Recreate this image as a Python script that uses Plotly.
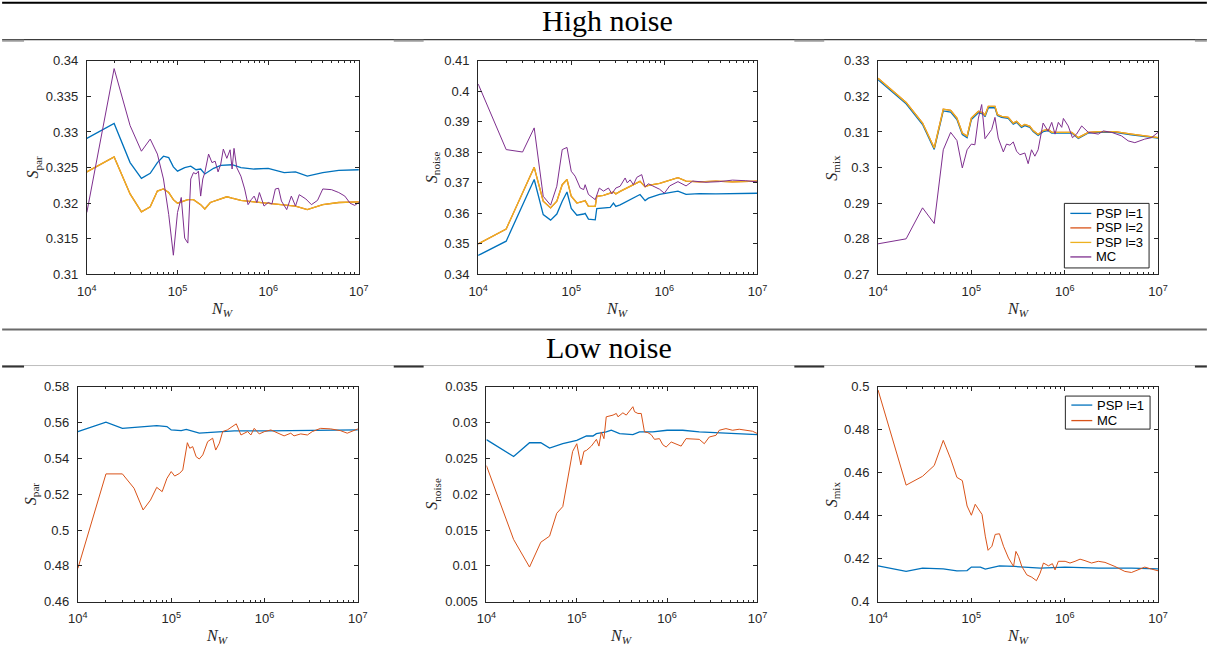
import plotly.graph_objects as go

# ---------------- data ----------------
# High noise, S_par
hp_psp1_N = [1e4, 2e4, 3e4, 4e4, 5e4, 6e4, 7e4, 8e4, 9e4, 1e5, 1.2e5, 1.4e5, 1.6e5, 1.8e5, 2e5, 2.5e5, 3e5, 4e5, 5e5, 7e5,
             1e6, 1.5e6, 2e6, 2.7e6, 4e6, 6e6, 1e7]
hp_psp1 = [0.3291, 0.3312, 0.3257, 0.3235, 0.3242, 0.3257, 0.3266, 0.3264, 0.3251, 0.3245, 0.3250, 0.3252, 0.3247, 0.3248,
           0.3241, 0.3249, 0.3253, 0.3254, 0.3250, 0.3248, 0.3249, 0.3243, 0.3244, 0.3238, 0.3243, 0.3246, 0.3247]
hp_psp3_N = [1e4, 2e4, 3e4, 4e4, 5e4, 6e4, 7e4, 8e4, 9e4, 1e5, 1.3e5, 1.5e5, 1.8e5, 2e5, 2.3e5, 3e5, 3.5e5, 4e5, 5e5, 7e5,
             1e6, 1.5e6, 2e6, 2.7e6, 4e6, 6e6, 1e7]
hp_psp3 = [0.3244, 0.3265, 0.3213, 0.3188, 0.3195, 0.3217, 0.3220, 0.3215, 0.3205, 0.3200, 0.3205, 0.3205, 0.3198, 0.3192,
           0.3201, 0.3206, 0.3209, 0.3207, 0.3204, 0.3202, 0.3200, 0.3197, 0.3196, 0.3191, 0.3198, 0.3201, 0.3202]
hp_psp2_N = hp_psp3_N
hp_psp2 = [0.3244, 0.3265, 0.3213, 0.3188, 0.3195, 0.3217, 0.3220, 0.3215, 0.3205, 0.3200, 0.3205, 0.3205, 0.3198, 0.3192,
           0.3201, 0.3206, 0.3209, 0.3207, 0.3204, 0.3202, 0.3200, 0.3197, 0.3196, 0.3191, 0.3198, 0.3201, 0.3202]
hp_mc_N = [1e4, 2e4, 3e4, 4e4, 5e4, 6e4, 7e4, 8e4, 9e4,
           1e5, 1.1e5, 1.2e5, 1.3e5, 1.4e5, 1.5e5, 1.6e5, 1.7e5, 1.8e5, 1.9e5, 2e5,
           2.2e5, 2.4e5, 2.6e5, 2.8e5, 3e5,
           3.2e5, 3.5e5, 3.8e5, 4e5, 4.2e5, 4.5e5, 5e5, 5.5e5, 6e5, 6.5e5, 7e5, 7.5e5, 8e5, 9e5,
           1e6, 1.1e6, 1.2e6, 1.3e6, 1.4e6, 1.6e6, 1.8e6, 2e6, 2.2e6, 2.6e6, 3e6, 3.5e6, 4e6, 5e6, 6e6, 7e6, 8e6, 9e6,
           1e7]
hp_mc = [0.3187, 0.3389, 0.3309, 0.3273, 0.3290, 0.3269, 0.3234, 0.3184, 0.3127,
         0.3187, 0.3208, 0.3151, 0.3144, 0.3234, 0.3243, 0.3241, 0.3245, 0.3210, 0.3234, 0.3243,
         0.3269, 0.3257, 0.3259, 0.3244, 0.3255,
         0.3276, 0.3263, 0.3275, 0.3248, 0.3277, 0.3250, 0.3238, 0.3220, 0.3198, 0.3205, 0.3210, 0.3201, 0.3215, 0.3196,
         0.3201, 0.3199, 0.3220, 0.3221, 0.3203, 0.3191, 0.3210, 0.3196, 0.3212, 0.3206, 0.3198, 0.3204, 0.3220, 0.3219,
         0.3215, 0.3210, 0.3200, 0.3197,
         0.3201]

# High noise, S_noise
hn_psp1_N = [1e4, 2e4, 4e4, 5e4, 6e4, 7e4, 8e4, 9e4,
             1e5, 1.15e5, 1.36e5, 1.41e5, 1.53e5, 1.81e5, 1.88e5,
             2.22e5, 2.62e5, 2.84e5, 3.01e5, 3.35e5, 3.95e5, 4.65e5, 5.48e5, 6.21e5, 6.74e5, 8.9e5,
             1.4e6, 1.71e6, 2.38e6, 3.58e6, 5.4e6, 1e7]
hn_psp1 = [0.3462, 0.3509, 0.3711, 0.3596, 0.3578, 0.3598, 0.3640, 0.3670,
           0.3616, 0.3594, 0.3598, 0.3600, 0.3581, 0.3579, 0.3616,
           0.3618, 0.3620, 0.3634, 0.3623, 0.3628, 0.3640, 0.3651, 0.3662, 0.3642, 0.3650, 0.3662,
           0.3673, 0.3662, 0.3665, 0.3664, 0.3665, 0.3666]
hn_psp3_N = [1e4, 2e4, 4e4, 5e4, 6e4, 7e4, 8e4, 9e4,
             1e5, 1.15e5, 1.36e5, 1.41e5, 1.53e5, 1.81e5, 1.88e5,
             2.22e5, 2.84e5, 3.01e5, 3.35e5, 3.95e5, 4.65e5, 5.48e5, 6.21e5, 6.74e5, 8.9e5,
             1.4e6, 1.71e6, 2.38e6, 3.58e6, 5.4e6, 1e7]
hn_psp3 = [0.3500, 0.3549, 0.3751, 0.3640, 0.3618, 0.3640, 0.3694, 0.3711,
           0.3656, 0.3634, 0.3640, 0.3642, 0.3623, 0.3623, 0.3656,
           0.3659, 0.3670, 0.3664, 0.3672, 0.3683, 0.3692, 0.3705, 0.3687, 0.3692, 0.3698,
           0.3717, 0.3706, 0.3703, 0.3706, 0.3703, 0.3706]
hn_psp2_N = hn_psp3_N
hn_psp2 = [0.3500, 0.3549, 0.3751, 0.3640, 0.3618, 0.3640, 0.3694, 0.3711,
           0.3656, 0.3634, 0.3640, 0.3642, 0.3623, 0.3623, 0.3656,
           0.3659, 0.3670, 0.3664, 0.3672, 0.3683, 0.3692, 0.3705, 0.3687, 0.3692, 0.3698,
           0.3717, 0.3706, 0.3703, 0.3706, 0.3703, 0.3706]
hn_mc_N = [1e4, 2e4, 3e4, 4e4, 5e4, 6e4, 7e4, 8e4, 9e4,
           1e5, 1.1e5, 1.25e5, 1.36e5, 1.41e5, 1.53e5, 1.81e5, 2e5,
           2.22e5, 2.51e5, 2.73e5, 3.01e5, 3.35e5, 3.79e5, 4e5, 4.29e5, 4.65e5, 5.06e5, 5.71e5, 6.21e5, 6.74e5, 7.5e5,
           8.9e5, 1e6, 1.14e6, 1.4e6, 1.71e6, 2.02e6, 2.8e6, 3.89e6, 5.4e6, 7.5e6, 1e7]
hn_mc = [0.4024, 0.3809, 0.3801, 0.3880, 0.3656, 0.3627, 0.3689, 0.3809, 0.3816,
         0.3738, 0.3722, 0.3683, 0.3678, 0.3694, 0.3662, 0.3645, 0.3683,
         0.3673, 0.3683, 0.3664, 0.3683, 0.3689, 0.3716, 0.3700, 0.3710, 0.3694, 0.3718, 0.3727, 0.3687, 0.3697, 0.3690,
         0.3679, 0.3666, 0.3690, 0.3704, 0.3690, 0.3706, 0.3702, 0.3704, 0.3709, 0.3707, 0.3703]

# High noise, S_mix
hm_psp_N = [1e4, 2e4, 3e4, 4e4, 5e4, 6e4, 7e4, 8e4, 9e4, 1e5,
            1.19e5, 1.34e5, 1.40e5, 1.52e5, 1.79e5, 1.90e5, 2.11e5, 2.48e5, 2.81e5, 3.05e5, 3.44e5, 3.74e5, 4.23e5,
            4.59e5, 5.19e5,
            5.87e5, 6.64e5, 7.26e5, 1e6, 1.19e6, 1.4e6, 1.79e6, 2.29e6, 3.45e6, 5.19e6, 7.2e6, 1e7]
hm_psp1 = [0.3247, 0.3179, 0.3121, 0.3051, 0.3159, 0.3156, 0.3135, 0.3093, 0.3084, 0.3135,
           0.3154, 0.3150, 0.3143, 0.3168, 0.3168, 0.3146, 0.3141, 0.3138, 0.3122, 0.3127, 0.3113, 0.3118, 0.3113,
           0.3101, 0.3090,
           0.3101, 0.3104, 0.3097, 0.3097, 0.3097, 0.3082, 0.3097, 0.3099, 0.3099, 0.3092, 0.3087, 0.3083]
hm_psp2 = [0.3251, 0.3183, 0.3125, 0.3055, 0.3164, 0.3161, 0.3139, 0.3097, 0.3088, 0.3139,
           0.3158, 0.3153, 0.3147, 0.3172, 0.3172, 0.3149, 0.3144, 0.3141, 0.3125, 0.3130, 0.3116, 0.3121, 0.3116,
           0.3104, 0.3093,
           0.3104, 0.3107, 0.3099, 0.3099, 0.3099, 0.3084, 0.3099, 0.3101, 0.3101, 0.3094, 0.3089, 0.3084]
hm_psp3 = [0.3251, 0.3183, 0.3125, 0.3055, 0.3164, 0.3161, 0.3139, 0.3097, 0.3088, 0.3139,
           0.3158, 0.3153, 0.3147, 0.3172, 0.3172, 0.3149, 0.3144, 0.3141, 0.3125, 0.3130, 0.3116, 0.3121, 0.3116,
           0.3104, 0.3093,
           0.3104, 0.3107, 0.3099, 0.3099, 0.3099, 0.3084, 0.3099, 0.3101, 0.3101, 0.3094, 0.3089, 0.3084]
hm_mc_N = [1e4, 2e4, 3e4, 4e4, 5e4, 6e4, 7e4, 8e4, 9e4, 1e5,
           1.09e5, 1.19e5, 1.29e5, 1.40e5, 1.65e5, 1.79e5, 1.94e5, 2.20e5, 2.38e5, 2.59e5, 2.81e5, 3.05e5, 3.31e5,
           3.74e5, 4.06e5, 4.41e5, 4.79e5, 5.19e5, 5.87e5, 6.64e5,
           7.26e5, 7.88e5, 8.55e5, 9.29e5, 9.68e5,
           1.09e6, 1.21e6, 1.34e6, 1.52e6, 1.79e6, 2.29e6, 2.59e6, 3.18e6, 4.06e6, 4.79e6, 5.64e6, 7.2e6, 8.5e6, 1e7]
hm_mc = [0.2786, 0.2800, 0.2887, 0.2843, 0.3050, 0.3099, 0.3076, 0.2999, 0.3050, 0.3066,
         0.3064, 0.3139, 0.3177, 0.3081, 0.3107, 0.3141, 0.3083, 0.3044, 0.3066, 0.3063, 0.3072, 0.3046, 0.3036,
         0.3041, 0.3011, 0.3050, 0.3032, 0.3050, 0.3125, 0.3102,
         0.3127, 0.3094, 0.3127, 0.3113, 0.3138,
         0.3117, 0.3084, 0.3094, 0.3117, 0.3099, 0.3094, 0.3103, 0.3099, 0.3089, 0.3075, 0.3070, 0.3080, 0.3084, 0.3099]

# Low noise, S_par
lp_psp1_N = [1e4, 2e4, 3e4, 5e4, 7e4, 9e4, 1e5, 1.28e5, 1.45e5, 2e5, 3.15e5, 4.74e5, 1.08e6, 1e7]
lp_psp1 = [0.5549, 0.5601, 0.5567, 0.5577, 0.5582, 0.5577, 0.5558, 0.5554, 0.5561, 0.5540, 0.5546, 0.5553, 0.5553, 0.5558]
lp_mc_N = [1e4, 2e4, 3e4, 4e4, 5e4, 6e4, 7e4, 8e4, 9e4, 1e5,
           1.09e5, 1.23e5, 1.33e5, 1.49e5, 1.58e5, 1.70e5, 1.85e5, 2e5, 2.18e5, 2.46e5, 2.78e5, 3e5, 3.28e5, 3.56e5,
           3.99e5, 4.55e5, 4.98e5, 5.59e5, 6.59e5, 7.14e5, 7.76e5, 8.77e5,
           1e6, 1.17e6, 1.38e6, 1.62e6, 1.91e6, 2.07e6, 2.44e6, 2.88e6, 3.25e6, 3.99e6, 5.11e6, 6.53e6, 7.69e6, 9.06e6, 1e7]
lp_mc = [0.4786, 0.5313, 0.5313, 0.5233, 0.5112, 0.5167, 0.5238, 0.5214, 0.5288, 0.5326,
         0.5301, 0.5316, 0.5335, 0.5487, 0.5456, 0.5465, 0.5409, 0.5396, 0.5419, 0.5493, 0.5512, 0.5446, 0.5484, 0.5549,
         0.5558, 0.5577, 0.5592, 0.5530, 0.5549, 0.5530, 0.5567, 0.5536,
         0.5549, 0.5558, 0.5543, 0.5525, 0.5540, 0.5525, 0.5536, 0.5530, 0.5549, 0.5567, 0.5564, 0.5554, 0.5540, 0.5554, 0.5564]

# Low noise, S_noise
ln_psp1_N = [1e4, 2e4, 3e4, 4e4, 5e4, 7e4, 1e5, 1.28e5, 1.51e5, 1.65e5, 2.12e5, 2.41e5, 2.98e5, 4.18e5, 4.95e5, 6.95e5,
             1e6, 1.49e6, 2.27e6, 3.47e6, 5.3e6, 1e7]
ln_psp1 = [0.02760, 0.02525, 0.02717, 0.02717, 0.02642, 0.02703, 0.02750, 0.02811, 0.02811, 0.02844, 0.02867, 0.02891,
           0.02844, 0.02830, 0.02867, 0.02867, 0.02891, 0.02891, 0.02867, 0.02858, 0.02844, 0.02830]
ln_mc_N = [1e4, 2e4, 3e4, 4e4, 5e4, 6e4, 7e4, 8e4, 9e4, 1e5,
           1.05e5, 1.11e5, 1.2e5, 1.28e5, 1.45e5, 1.65e5, 1.76e5, 1.87e5, 2e5, 2.12e5, 2.52e5, 2.74e5, 2.86e5, 3.24e5,
           3.53e5, 3.84e5, 4.18e5, 4.36e5, 4.75e5, 5.17e5, 5.62e5, 6.12e5, 6.66e5, 7.25e5, 8.23e5, 8.96e5, 9.75e5,
           1.11e6, 1.26e6, 1.43e6, 1.62e6, 1.92e6, 2.27e6, 2.58e6, 2.93e6, 3.47e6, 3.78e6, 4.48e6, 5.3e6, 6.28e6,
           7.43e6, 8.81e6, 1e7]
ln_mc = [0.02399, 0.01368, 0.00984, 0.01330, 0.01415, 0.01733, 0.01827, 0.02249, 0.02596, 0.02703,
         0.02586, 0.02408, 0.02596, 0.02610, 0.02670, 0.02764, 0.02670, 0.02867, 0.02774, 0.03078, 0.03102, 0.03125,
         0.03078, 0.03134, 0.03102, 0.03158, 0.03219, 0.03149, 0.03125, 0.03125, 0.02867, 0.02858, 0.02830, 0.02764,
         0.02774, 0.02689, 0.02657, 0.02727, 0.02703, 0.02670, 0.02774, 0.02774, 0.02764, 0.02703, 0.02797, 0.02820,
         0.02891, 0.02914, 0.02891, 0.02905, 0.02891, 0.02877, 0.02844]

# Low noise, S_mix
lm_psp1_N = [1e4, 2e4, 3e4, 5e4, 7e4, 9e4, 1e5, 1.25e5, 1.41e5, 2e5, 2.9e5, 4e5, 5.5e5, 1.01e6, 2.29e6, 5.19e6, 1e7]
lm_psp1 = [0.4167, 0.4141, 0.4156, 0.4153, 0.4144, 0.4145, 0.4161, 0.4161, 0.4152, 0.4167, 0.4164, 0.4161, 0.4156,
           0.4161, 0.4156, 0.4156, 0.4153]
lm_mc_N = [1e4, 2e4, 3e4, 4e4, 5e4, 6e4, 7e4, 8e4, 9e4, 1e5,
           1.10e5, 1.30e5, 1.41e5, 1.51e5, 1.66e5, 1.80e5, 2e5, 2.21e5, 2.50e5, 2.83e5, 3e5, 3.2e5, 3.47e5, 3.93e5,
           4.44e5, 4.98e5, 5.45e5, 5.92e5, 6.69e5, 7.38e5, 7.88e5, 8.55e5,
           1.01e6, 1.14e6, 1.29e6, 1.46e6, 1.65e6, 1.94e6, 2.29e6, 2.70e6, 3.45e6, 4.41e6, 5.19e6, 7.2e6, 8.5e6, 1e7]
lm_mc = [0.4984, 0.4542, 0.4583, 0.4633, 0.4750, 0.4664, 0.4578, 0.4563, 0.4445, 0.4402,
         0.4453, 0.4406, 0.4305, 0.4239, 0.4258, 0.4313, 0.4316, 0.4258, 0.4203, 0.4164, 0.4234, 0.4211, 0.4164, 0.4125,
         0.4114, 0.4098, 0.4133, 0.4180, 0.4167, 0.4177, 0.4148, 0.4188,
         0.4188, 0.4180, 0.4188, 0.4198, 0.4191, 0.4180, 0.4188, 0.4183, 0.4164, 0.4141, 0.4136, 0.4161, 0.4152, 0.4144]

# axis ticks
x_tickvals = [1e4, 1e5, 1e6, 1e7]
x_ticktext = ["10<sup>4</sup>", "10<sup>5</sup>", "10<sup>6</sup>", "10<sup>7</sup>"]
x_minor = [2e4, 3e4, 4e4, 5e4, 6e4, 7e4, 8e4, 9e4, 2e5, 3e5, 4e5, 5e5, 6e5, 7e5, 8e5, 9e5,
           2e6, 3e6, 4e6, 5e6, 6e6, 7e6, 8e6, 9e6]
y1_ticks = [0.31, 0.315, 0.32, 0.325, 0.33, 0.335, 0.34]
y1_text = ["0.31", "0.315", "0.32", "0.325", "0.33", "0.335", "0.34"]
y2_ticks = [0.34, 0.35, 0.36, 0.37, 0.38, 0.39, 0.40, 0.41]
y2_text = ["0.34", "0.35", "0.36", "0.37", "0.38", "0.39", "0.4", "0.41"]
y3_ticks = [0.27, 0.28, 0.29, 0.30, 0.31, 0.32, 0.33]
y3_text = ["0.27", "0.28", "0.29", "0.3", "0.31", "0.32", "0.33"]
y4_ticks = [0.46, 0.48, 0.50, 0.52, 0.54, 0.56, 0.58]
y4_text = ["0.46", "0.48", "0.5", "0.52", "0.54", "0.56", "0.58"]
y5_ticks = [0.005, 0.01, 0.015, 0.02, 0.025, 0.03, 0.035]
y5_text = ["0.005", "0.01", "0.015", "0.02", "0.025", "0.03", "0.035"]
y6_ticks = [0.40, 0.42, 0.44, 0.46, 0.48, 0.50]
y6_text = ["0.4", "0.42", "0.44", "0.46", "0.48", "0.5"]

legend_top = ["PSP l=1", "PSP l=2", "PSP l=3", "MC"]
legend_bottom = ["PSP l=1", "MC"]

# ---------------- styling / layout ----------------
W, H = 1209, 655
# The page keeps the browser's default 8px body margin, and the capture of the
# page is fitted back into 1209x655; positions below are given in final image
# pixels and converted to the figure's own paper coordinates.
OFF = 8
SX = (W + 2 * OFF) / W
SY = (H + 2 * OFF) / H
BLUE, ORANGE, YELLOW, PURPLE = "#0072BD", "#D95319", "#EDB120", "#7E2F8E"
AXC = "#262626"
SANS = "Liberation Sans"
SERIF = "Liberation Serif"


def fx(px):
    """final-image pixel x -> paper fraction"""
    return (px * SX - OFF) / W


def fy(py):
    """final-image pixel y (from top) -> paper fraction"""
    return 1 - (py * SY - OFF) / H


# plot-area boxes in image pixels: (left, right, top, bottom)
boxes = [
    (85, 358, 61.5, 275), (477.7, 758, 61.5, 275), (879, 1160, 61.5, 275),
    (76, 357, 387, 602), (486, 758, 387, 602), (879, 1160, 387, 602),
]
yranges = [(0.31, 0.34), (0.34, 0.41), (0.27, 0.33), (0.46, 0.58), (0.005, 0.035), (0.40, 0.50)]
yt = [(y1_ticks, y1_text), (y2_ticks, y2_text), (y3_ticks, y3_text),
      (y4_ticks, y4_text), (y5_ticks, y5_text), (y6_ticks, y6_text)]

fig = go.Figure()


def add(i, N, vals, color, name, width):
    assert len(N) == len(vals), name
    sfx = "" if i == 0 else str(i + 1)
    fig.add_trace(go.Scatter(
        x=N, y=vals, mode="lines", name=name, line=dict(color=color, width=width),
        xaxis="x" + sfx, yaxis="y" + sfx, showlegend=False,
    ))


# top row
add(0, hp_psp1_N, hp_psp1, BLUE, "PSP l=1", 1.3)
add(0, hp_psp2_N, hp_psp2, ORANGE, "PSP l=2", 1.3)
add(0, hp_psp3_N, hp_psp3, YELLOW, "PSP l=3", 1.3)
add(0, hp_mc_N, hp_mc, PURPLE, "MC", 1.0)
add(1, hn_psp1_N, hn_psp1, BLUE, "PSP l=1", 1.3)
add(1, hn_psp2_N, hn_psp2, ORANGE, "PSP l=2", 1.3)
add(1, hn_psp3_N, hn_psp3, YELLOW, "PSP l=3", 1.3)
add(1, hn_mc_N, hn_mc, PURPLE, "MC", 1.0)
add(2, hm_psp_N, hm_psp1, BLUE, "PSP l=1", 1.3)
add(2, hm_psp_N, hm_psp2, ORANGE, "PSP l=2", 1.3)
add(2, hm_psp_N, hm_psp3, YELLOW, "PSP l=3", 1.3)
add(2, hm_mc_N, hm_mc, PURPLE, "MC", 1.0)
# bottom row
add(3, lp_psp1_N, lp_psp1, BLUE, "PSP l=1", 1.3)
add(3, lp_mc_N, lp_mc, ORANGE, "MC", 1.0)
add(4, ln_psp1_N, ln_psp1, BLUE, "PSP l=1", 1.3)
add(4, ln_mc_N, ln_mc, ORANGE, "MC", 1.0)
add(5, lm_psp1_N, lm_psp1, BLUE, "PSP l=1", 1.3)
add(5, lm_mc_N, lm_mc, ORANGE, "MC", 1.0)

tickfont = dict(family=SANS, size=13, color=AXC)
common = dict(showline=True, linecolor=AXC, linewidth=1, mirror="allticks", ticks="inside",
              ticklen=4, tickwidth=1, tickcolor=AXC, showgrid=False, zeroline=False,
              tickfont=tickfont, ticklabelstandoff=5)

layout = dict(width=W, height=H, margin=dict(l=0, r=0, t=0, b=0), autosize=False,
              paper_bgcolor="white", plot_bgcolor="white", showlegend=False)
for i, (l, r, t, b) in enumerate(boxes):
    sfx = "" if i == 0 else str(i + 1)
    layout["xaxis" + sfx] = dict(
        common, type="log", range=[4, 7], domain=[fx(l), fx(r)], anchor="y" + sfx,
        tickvals=x_tickvals, ticktext=x_ticktext,
        minor=dict(tickvals=x_minor, ticks="inside", ticklen=2, tickcolor=AXC, showgrid=False),
    )
    layout["yaxis" + sfx] = dict(
        common, range=list(yranges[i]), domain=[fy(b), fy(t)], anchor="x" + sfx,
        tickvals=yt[i][0], ticktext=yt[i][1],
    )
fig.update_layout(**layout)

# axis labels
ylabels = ["<i>S</i><sub>par</sub>", "<i>S</i><sub>noise</sub>", "<i>S</i><sub>mix</sub>",
           "<i>S</i><sub>par</sub>", "<i>S</i><sub>noise</sub>", "<i>S</i><sub>mix</sub>"]
ylab_x = [32, 432, 833, 29, 432, 833]
for i, (l, r, t, b) in enumerate(boxes):
    fig.add_annotation(x=fx(ylab_x[i]), y=fy((t + b) / 2), xref="paper", yref="paper",
                       xanchor="center", yanchor="middle",
                       text=ylabels[i], textangle=-90, showarrow=False,
                       font=dict(family=SERIF, size=16, color=AXC))
    fig.add_annotation(x=fx((l + r) / 2), y=fy(b + 35), xref="paper", yref="paper",
                       xanchor="center", yanchor="middle",
                       text="<i>N</i><sub><i>W</i></sub>", showarrow=False,
                       font=dict(family=SERIF, size=16, color=AXC))

# section titles
fig.add_annotation(x=fx(608), y=fy(21), xref="paper", yref="paper", text="High noise",
                   xanchor="center", yanchor="middle",
                   showarrow=False, font=dict(family=SERIF, size=30, color="#000"))
fig.add_annotation(x=fx(609), y=fy(348), xref="paper", yref="paper", text="Low noise",
                   xanchor="center", yanchor="middle",
                   showarrow=False, font=dict(family=SERIF, size=30, color="#000"))


# table rules
def hline(y, x0, x1, color, width):
    fig.add_shape(type="line", xref="paper", yref="paper", x0=fx(x0), x1=fx(x1), y0=fy(y), y1=fy(y),
                  line=dict(color=color, width=width))


hline(3.5, 0, 1209, "#000000", 2)
hline(40.5, 0, 1209, "#3a3a3a", 1.2)
for a, b_ in [(0, 22), (393, 423), (795, 825), (1197, 1209)]:
    hline(41.5, a, b_, "#9a9a9a", 2)
hline(330, 0, 1209, "#6a6a6a", 2)
hline(366, 0, 1209, "#bdbdbd", 1)
for a, b_ in [(0, 22), (393, 423), (795, 825), (1197, 1209)]:
    hline(367, a, b_, "#333333", 2)


# legends (MATLAB-style boxes)
def legend_box(x0, x1, y0, y1, names, colors, ys):
    fig.add_shape(type="rect", xref="paper", yref="paper", x0=fx(x0), x1=fx(x1), y0=fy(y1), y1=fy(y0),
                  line=dict(color=AXC, width=1), fillcolor="white", layer="above")
    for name, col, yy in zip(names, colors, ys):
        fig.add_shape(type="line", xref="paper", yref="paper", x0=fx(x0 + 6), x1=fx(x0 + 27),
                      y0=fy(yy), y1=fy(yy), line=dict(color=col, width=1.3), layer="above")
        fig.add_annotation(x=fx(x0 + 30), y=fy(yy), xref="paper", yref="paper", text=name,
                           xanchor="left", yanchor="middle", showarrow=False,
                           font=dict(family=SANS, size=13, color="#000"))


legend_box(1066, 1151, 204, 268.5, legend_top, [BLUE, ORANGE, YELLOW, PURPLE], [214, 228.5, 243, 257.5])
legend_box(1067, 1152, 396.5, 429.5, legend_bottom, [BLUE, ORANGE], [405.5, 421])

fig.write_html("out.html")
